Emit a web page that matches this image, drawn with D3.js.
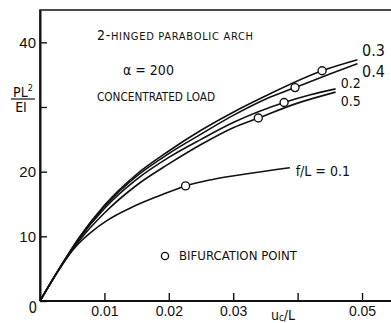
<!DOCTYPE html>
<html>
<head>
<meta charset="utf-8">
<script src="https://cdn.jsdelivr.net/npm/d3@7.9.0/dist/d3.min.js"></script>
<style>
  body { margin: 0; background: #fff; }
  svg { display: block; font-family: 'DejaVu Sans Condensed', 'Liberation Sans Narrow', sans-serif; }
  text { fill: #111; }
</style>
</head>
<body>
<div id="chart"></div>
<script>
// u/L (x) and PL^2/EI (y), one array per f/L ratio
const curve01 = [[0, 0], [0.002, 3.4], [0.004, 6.5], [0.006, 8.9], [0.008, 10.7], [0.0105, 12.5], [0.0145, 14.6], [0.0186, 16.3], [0.0226, 17.8], [0.0268, 18.8], [0.033, 19.8], [0.0388, 20.6]];
const curve02 = [[0, 0], [0.003, 5.0], [0.006, 9.5], [0.01, 14.3], [0.015, 18.8], [0.02, 22.2], [0.025, 25.0], [0.03, 27.6], [0.0379, 30.7], [0.042, 31.9], [0.0459, 32.8]];
const curve03 = [[0, 0], [0.003, 5.0], [0.006, 9.7], [0.01, 14.8], [0.015, 19.6], [0.02, 23.2], [0.025, 26.4], [0.03, 29.2], [0.035, 31.7], [0.0438, 35.6], [0.0493, 37.3]];
const curve04 = [[0, 0], [0.003, 5.0], [0.006, 9.6], [0.01, 14.6], [0.015, 19.3], [0.02, 22.8], [0.025, 25.8], [0.03, 28.7], [0.035, 31.2], [0.0396, 33.0], [0.045, 35.1], [0.0493, 36.7]];
const curve05 = [[0, 0], [0.003, 4.9], [0.006, 9.2], [0.01, 13.6], [0.015, 17.9], [0.02, 21.2], [0.025, 24.2], [0.03, 26.8], [0.0339, 28.3], [0.04, 30.6], [0.0459, 32.3]];
const bifurcation = [[0.0226, 17.8], [0.0379, 30.7], [0.0438, 35.6], [0.0396, 33.0], [0.0339, 28.3]];

const curveLabels = [
  { text: '0.3', at: [0.0500, 37.9], size: 16 },
  { text: '0.4', at: [0.0500, 34.7], size: 16 },
  { text: '0.2', at: [0.0467, 32.9], size: 14 },
  { text: '0.5', at: [0.0467, 30.1], size: 14 },
  { text: 'f/L = 0.1', at: [0.0397, 19.4], size: 14 },
];

const xTicks = [0.01, 0.02, 0.03, 0.04, 0.05];
const xTickLabels = ['0.01', '0.02', '0.03', '', '0.05'];
const yTicks = [0, 10, 20, 30, 40];
const yTickLabels = ['', '10', '20', '', '40'];

const width = 391;
const height = 323;

const x = d3.scaleLinear().domain([0, 0.0545]).range([40, 391]);
const y = d3.scaleLinear().domain([0, 45]).range([301, 10]);

const svg = d3.select('#chart').append('svg').attr('width', width).attr('height', height);

// frame: left, top, bottom (no right edge in the scan)
svg.append('path')
  .attr('d', `M${x(0)},${y(0)}V${y(45)}H${width}`)
  .attr('fill', 'none').attr('stroke', '#111').attr('stroke-width', 1.6);

const xAxis = svg.append('g')
  .attr('transform', `translate(0,${y(0)})`)
  .call(d3.axisBottom(x).tickValues(xTicks).tickSizeInner(-8).tickSizeOuter(0).tickPadding(5)
    .tickFormat((d, i) => xTickLabels[i]));
xAxis.select('.domain').attr('stroke', '#111').attr('stroke-width', 2).attr('d', `M${x(0)},0H${width}`);
xAxis.selectAll('.tick line').attr('stroke', '#111').attr('stroke-width', 1.4);
xAxis.selectAll('.tick text').attr('font-size', 14).attr('font-family', null).attr('fill', '#111');

const yAxis = svg.append('g')
  .attr('transform', `translate(${x(0)},0)`)
  .call(d3.axisLeft(y).tickValues(yTicks).tickSizeInner(-7).tickSizeOuter(0).tickPadding(4)
    .tickFormat((d, i) => yTickLabels[i]));
yAxis.select('.domain').attr('stroke', '#111').attr('stroke-width', 2);
yAxis.selectAll('.tick line').attr('stroke', '#111').attr('stroke-width', 1.4);
yAxis.selectAll('.tick text').attr('font-size', 15).attr('font-family', null).attr('fill', '#111');

svg.append('text').attr('x', 37).attr('y', 313).attr('text-anchor', 'end').attr('font-size', 15).text('0');

// x axis title in place of the 0.04 label
const xTitle = svg.append('text').attr('x', 283).attr('y', 320).attr('text-anchor', 'middle').attr('font-size', 14);
xTitle.append('tspan').text('u');
xTitle.append('tspan').attr('font-size', 10).attr('dy', 1).text('c');
xTitle.append('tspan').attr('dy', -1).text('/L');

// y axis title as a fraction
svg.append('text').attr('x', 23).attr('y', 97).attr('text-anchor', 'middle').attr('font-size', 14)
  .html('PL<tspan font-size="9" dy="-6">2</tspan>');
svg.append('line').attr('x1', 11).attr('x2', 35).attr('y1', 99).attr('y2', 99)
  .attr('stroke', '#111').attr('stroke-width', 1.2);
svg.append('text').attr('x', 21).attr('y', 112).attr('text-anchor', 'middle').attr('font-size', 14).text('EI');

const line = d3.line().x((d) => x(d[0])).y((d) => y(d[1])).curve(d3.curveMonotoneX);

svg.append('g').selectAll('path')
  .data([curve01, curve02, curve03, curve04, curve05])
  .join('path')
  .attr('d', line)
  .attr('fill', 'none')
  .attr('stroke', '#111')
  .attr('stroke-width', 1.6);

svg.append('g').selectAll('circle')
  .data(bifurcation)
  .join('circle')
  .attr('cx', (d) => x(d[0]))
  .attr('cy', (d) => y(d[1]))
  .attr('r', 4)
  .attr('fill', '#fff')
  .attr('stroke', '#111')
  .attr('stroke-width', 1.4);

svg.append('g').selectAll('text')
  .data(curveLabels)
  .join('text')
  .attr('x', (d) => x(d.at[0]))
  .attr('y', (d) => y(d.at[1]))
  .attr('font-size', (d) => d.size)
  .text((d) => d.text);

// annotations
const title = svg.append('text').attr('x', 97).attr('y', 40).attr('font-size', 14)
  .attr('textLength', 156).attr('lengthAdjust', 'spacing');
title.append('tspan').text('2-');
title.append('tspan').attr('font-size', 11).text('HINGED PARABOLIC ARCH');

svg.append('text').attr('x', 123).attr('y', 75).attr('font-size', 14).text('α = 200');
svg.append('text').attr('x', 97).attr('y', 101).attr('font-size', 12.5)
  .attr('textLength', 118).attr('lengthAdjust', 'spacingAndGlyphs').text('CONCENTRATED LOAD');

svg.append('circle').attr('cx', 165).attr('cy', 256).attr('r', 3.6)
  .attr('fill', '#fff').attr('stroke', '#111').attr('stroke-width', 1.4);
svg.append('text').attr('x', 179).attr('y', 260).attr('font-size', 12)
  .attr('textLength', 118).attr('lengthAdjust', 'spacingAndGlyphs').text('BIFURCATION POINT');
</script>
</body>
</html>
